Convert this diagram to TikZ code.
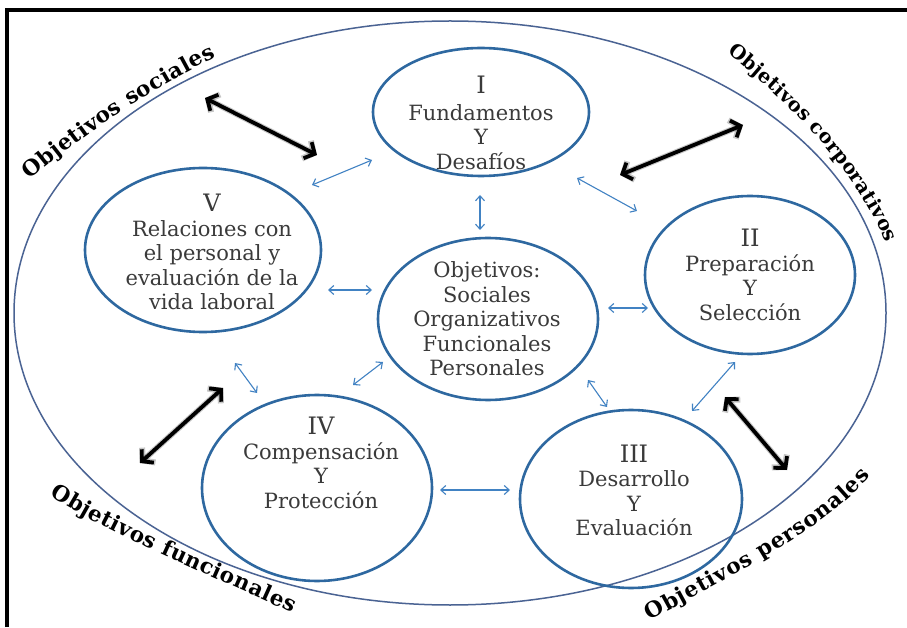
\documentclass[tikz,border=0pt]{standalone}
\usepackage{fontspec}
\setmainfont{DejaVu Serif}
\usetikzlibrary{arrows.meta,decorations.text,shapes.geometric}
\definecolor{circblue}{HTML}{2E68A0}
\definecolor{outerblue}{HTML}{4A6393}
\definecolor{arrblue}{HTML}{4182C3}
\definecolor{txtgray}{HTML}{3A3A3A}
\newcommand\lblfont{\fontsize{21.5}{26}\selectfont\bfseries}
\newcommand\lblfontsm{\fontsize{19.5}{24}\selectfont\bfseries}
\newcommand\numf{\fontsize{24}{24}\selectfont}
\tikzset{
  stage/.style={ellipse, draw=circblue, line width=2.6pt, inner sep=0pt},
  stagetext/.style={align=center, text=txtgray, inner sep=0pt,
    font=\fontsize{21}{24.5}\selectfont},
  sarrow/.style={draw=arrblue, line width=1.1pt,
    {Straight Barb[length=5pt,width=9pt]}-{Straight Barb[length=5pt,width=9pt]}},
  barrow/.style={draw=black, line width=3.8pt,
    {Straight Barb[length=8pt,width=18pt]}-{Straight Barb[length=8pt,width=18pt]}},
  bshadow/.style={draw=black, opacity=0.22, line width=6pt, shift={(2pt,-3pt)},
    {Straight Barb[length=8pt,width=20pt]}-{Straight Barb[length=8pt,width=20pt]}},
  curvelabel/.style={decorate, decoration={text along path, text align={fit to path},
    text={|\lblfont|#1}}},
  curvelabelsm/.style={decorate, decoration={text along path, text align={fit to path},
    text={|\lblfontsm|#1}}}
}
\begin{document}
\begin{tikzpicture}[x=1pt,y=1pt]
\useasboundingbox (0,0) rectangle (907,627);
\fill[white] (0,0) rectangle (907,627);
% frame
\draw[line width=4pt] (7,0) -- (7,617) -- (907,617);
% outer ellipse
\node[ellipse, draw=outerblue, line width=1.5pt, minimum width=872pt, minimum height=584pt, inner sep=0pt] (outer) at (450,314) {};
% stages
\node[stage, minimum width=216pt, minimum height=128pt] (s1) at (481,515) {};
\node[stage, minimum width=236pt, minimum height=164pt] (s5) at (203,377) {};
\node[stage, minimum width=220pt, minimum height=162pt] (sc) at (488,308) {};
\node[stage, minimum width=210pt, minimum height=158pt] (s2) at (750,352) {};
\node[stage, minimum width=230pt, minimum height=186pt] (s4) at (317,139) {};
\node[stage, minimum width=222pt, minimum height=178pt] (s3) at (631,128) {};
% texts
\node[stagetext] (t1) at (481,504) {{\numf I}\\[2pt]Fundamentos\\Y\\Desafíos};
\node[stagetext] (t5) at (212,375) {{\numf V}\\Relaciones con\\el personal y\\evaluación de la\\vida laboral};
\node[stagetext] (tc) at (487,308) {Objetivos:\\Sociales\\Organizativos\\Funcionales\\Personales};
\node[stagetext] (t2) at (750,352) {{\numf II}\\Preparación\\Y\\Selección};
\node[stagetext] (t4) at (321,164) {{\numf IV}\\Compensación\\Y\\Protección};
\node[stagetext] (t3) at (634,136.5) {{\numf III}\\Desarrollo\\Y\\Evaluación};
% small arrow end points
\coordinate (a1s) at (312,442); \coordinate (a1e) at (372,467);
\coordinate (a2s) at (480,432); \coordinate (a2e) at (480,397);
\coordinate (a3s) at (577,449); \coordinate (a3e) at (637,416);
\coordinate (a4s) at (328,337); \coordinate (a4e) at (372,337);
\coordinate (a5s) at (608,319); \coordinate (a5e) at (648,319);
\coordinate (a6s) at (235,264); \coordinate (a6e) at (257,234);
\coordinate (a7s) at (353,242); \coordinate (a7e) at (383,265);
\coordinate (a8s) at (588,247); \coordinate (a8e) at (607,220);
\coordinate (a9s) at (692,216); \coordinate (a9e) at (735,265);
\coordinate (a10s) at (440,137); \coordinate (a10e) at (510,137);
\foreach \i in {1,...,10} \draw[sarrow] (a\i s) -- (a\i e);
% big arrows
\coordinate (bAs) at (205,529); \coordinate (bAe) at (317,472);
\coordinate (bBs) at (620,452); \coordinate (bBe) at (743,502);
\coordinate (bCs) at (140,164); \coordinate (bCe) at (223,239);
\coordinate (bDs) at (725,230); \coordinate (bDe) at (787,157);
\foreach \k in {A,B,C,D} \draw[bshadow] (b\k s) -- (b\k e);
\foreach \k in {A,B,C,D} \draw[barrow] (b\k s) -- (b\k e);
% curved labels
\path[curvelabel={Objetivos sociales}] (30,447) .. controls (85,494) and (151,538) .. (216,570);
\path[curvelabelsm={Objetivos corporativos}] (727,574) .. controls (790,524) and (856,458) .. (886,384);
\path[curvelabel={Objetivos funcionales}] (50,132) .. controls (117,88) and (218,49) .. (292,14);
\path[curvelabel={Objetivos personales}] (650,6) .. controls (721,46) and (823,95) .. (870,151);
\end{tikzpicture}
\end{document}
